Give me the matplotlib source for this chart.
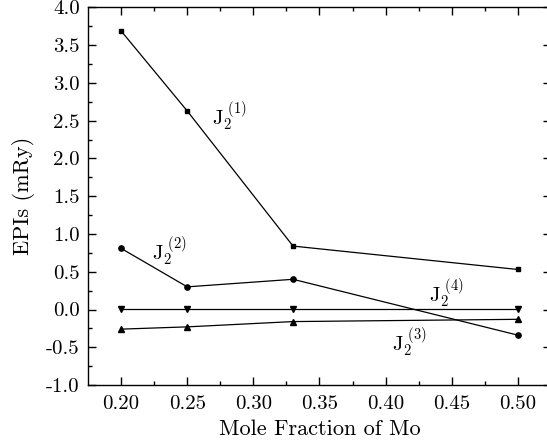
import matplotlib
matplotlib.use("Agg")
import matplotlib.pyplot as plt

plt.rcParams['font.family'] = 'cmr10'
plt.rcParams['mathtext.fontset'] = 'cm'
plt.rcParams['axes.formatter.use_mathtext'] = True

x = [0.20, 0.25, 0.33, 0.50]
j1 = [3.69, 2.63, 0.84, 0.53]
j2 = [0.81, 0.30, 0.40, -0.34]
j4 = [0.01, 0.01, 0.01, 0.01]
j3 = [-0.26, -0.23, -0.16, -0.13]

xticks = [0.20, 0.25, 0.30, 0.35, 0.40, 0.45, 0.50]
yticks = [-1.0, -0.5, 0.0, 0.5, 1.0, 1.5, 2.0, 2.5, 3.0, 3.5, 4.0]

fig = plt.figure(figsize=(5.47, 4.48), dpi=100)
ax = fig.add_axes([88/547, 63/448, 463/547, 377.5/448])

lw = 0.9
ax.plot(x, j1, '-', color='black', lw=lw, marker='s', ms=3.2)
ax.plot(x, j2, '-', color='black', lw=lw, marker='o', ms=3.8)
ax.plot(x, j4, '-', color='black', lw=lw, marker='v', ms=4.2)
ax.plot(x, j3, '-', color='black', lw=lw, marker='^', ms=4.2)

fs_lab = 15
ax.text(0.269, 2.444, r'$\mathrm{J}_2^{\ (1)}$', fontsize=fs_lab, ha='left', va='baseline')
ax.text(0.2235, 0.656, r'$\mathrm{J}_2^{\ (2)}$', fontsize=fs_lab, ha='left', va='baseline')
ax.text(0.4326, 0.099, r'$\mathrm{J}_2^{\ (4)}$', fontsize=fs_lab, ha='left', va='baseline')
ax.text(0.405, -0.55, r'$\mathrm{J}_2^{\ (3)}$', fontsize=fs_lab, ha='left', va='baseline')

ax.set_xlim(0.175, 0.525)
ax.set_ylim(-1.0, 4.0)
ax.set_xticks(xticks)
ax.set_xticklabels([f'{v:.2f}' for v in xticks])
ax.set_yticks(yticks)
ax.set_yticklabels([f'{v:.1f}' for v in yticks])
ax.set_xticks([0.225, 0.275, 0.325, 0.375, 0.425, 0.475], minor=True)
ax.set_yticks([-0.75, -0.25, 0.25, 0.75, 1.25, 1.75, 2.25, 2.75, 3.25, 3.75], minor=True)
ax.tick_params(which='both', direction='in', top=True, right=True, labelsize=15, width=1.0)
ax.tick_params(axis='x', which='major', pad=7)
ax.tick_params(axis='y', which='major', pad=6)
ax.tick_params(which='major', length=6)
ax.tick_params(which='minor', length=3)
for s in ax.spines.values():
    s.set_linewidth(1.0)

ax.set_xlabel('Mole Fraction of Mo', fontsize=16, labelpad=5)
ax.set_ylabel('EPIs (mRy)', fontsize=16, labelpad=8)

fig.savefig('out.png', dpi=100)
